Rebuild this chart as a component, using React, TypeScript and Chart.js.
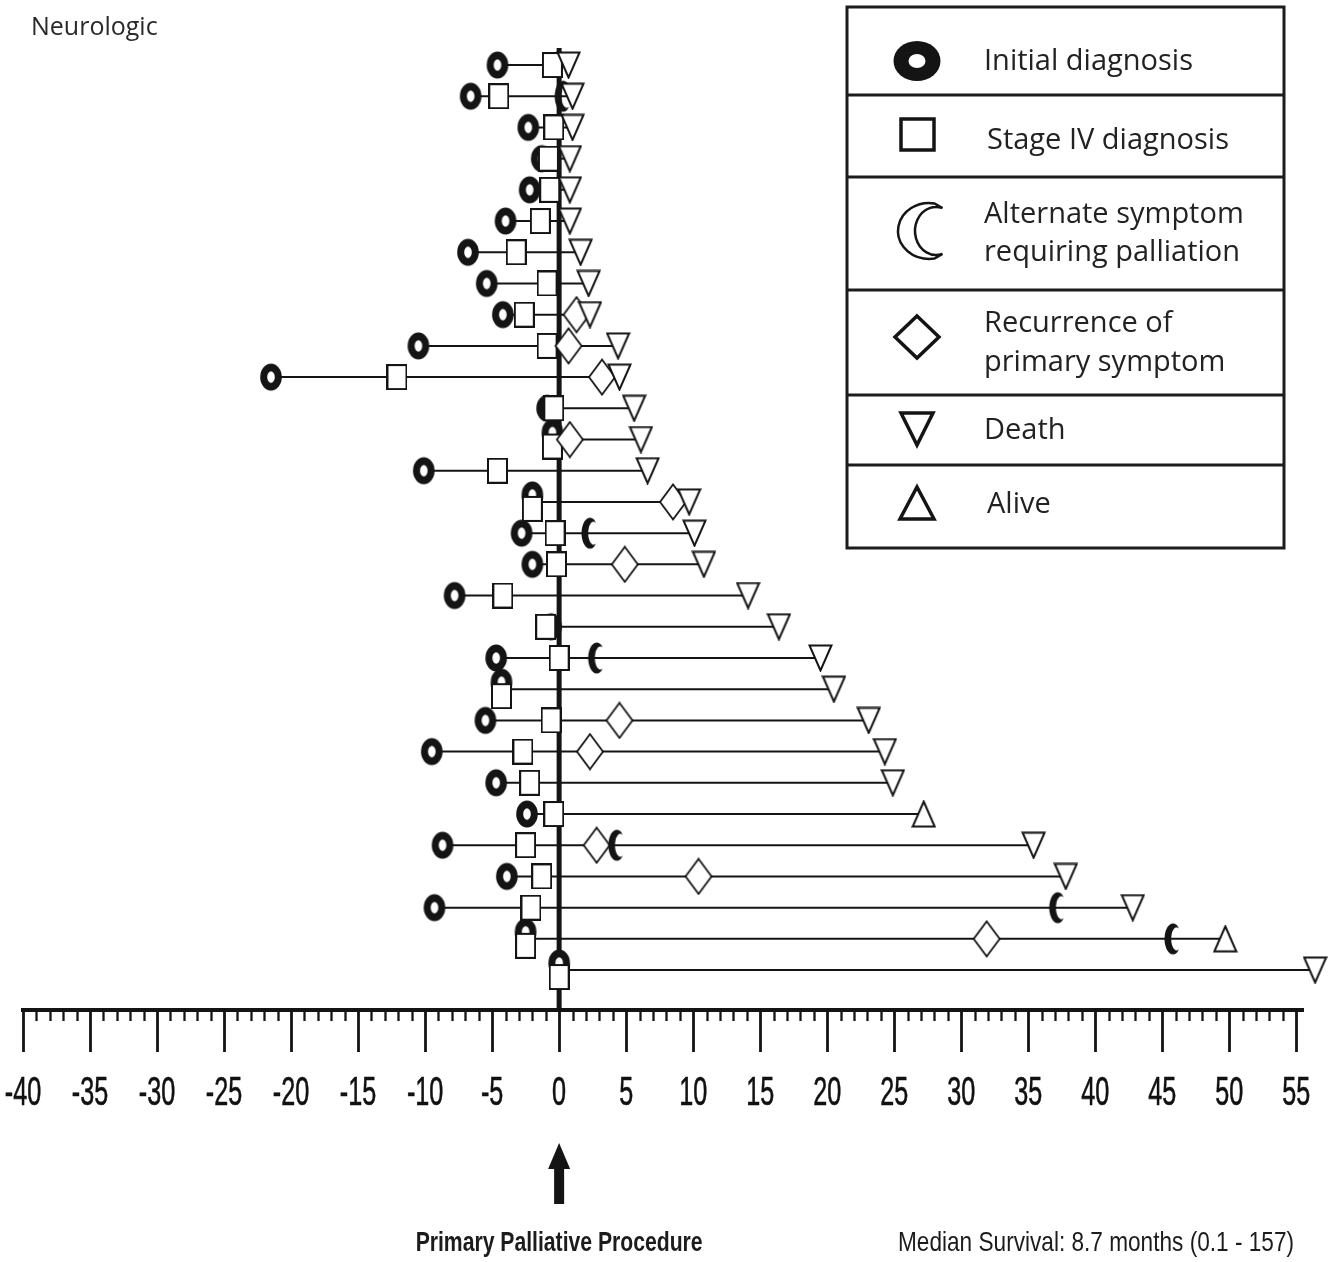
import React, { useEffect, useRef } from 'react';
import { Chart, registerables } from 'chart.js';

Chart.register(...registerables);

// ---------------- DATA (months relative to the primary palliative procedure) ----------------
const patients = [1, 2, 3, 4, 5, 6, 7, 8, 9, 10, 11, 12, 13, 14, 15, 16, 17, 18, 19, 20, 21, 22, 23, 24, 25, 26, 27, 28, 29, 30];
const initialDiagnosis = [-4.6, -6.6, -2.3, -1.3, -2.2, -4.0, -6.8, -5.4, -4.2, -10.5, -21.5, -0.9, -0.5, -10.1, -2.0, -2.8, -2.0, -7.8, -0.6, -4.7, -4.3, -5.5, -9.5, -4.7, -2.4, -8.7, -3.9, -9.3, -2.5, 0.0];
const stageIVDiagnosis = [-0.5, -4.5, -0.4, -0.8, -0.7, -1.4, -3.2, -0.9, -2.6, -0.9, -12.1, -0.4, -0.5, -4.6, -2.0, -0.3, -0.2, -4.2, -1.0, 0.0, -4.3, -0.6, -2.7, -2.2, -0.4, -2.5, -1.3, -2.1, -2.5, 0.0];
const alternateSymptom = [null, 0.3, null, null, null, null, null, null, null, null, null, null, null, null, null, 2.3, null, null, null, 2.8, null, null, null, null, null, 4.3, null, 37.2, 45.8, null];
const primaryRecurrence = [null, null, null, null, null, null, null, null, 1.3, 0.7, 3.2, null, 0.8, null, 8.5, null, 4.9, null, null, null, null, 4.5, 2.3, null, null, 2.8, 10.4, null, 31.9, null];
const lastFollowUp = [0.7, 1.0, 1.0, 0.8, 0.8, 0.8, 1.6, 2.2, 2.3, 4.4, 4.5, 5.6, 6.1, 6.6, 9.7, 10.1, 10.8, 14.1, 16.4, 19.5, 20.5, 23.1, 24.3, 24.9, 27.2, 35.4, 37.8, 42.8, 49.7, 56.4];
const outcomeStatus = ['Death', 'Death', 'Death', 'Death', 'Death', 'Death', 'Death', 'Death', 'Death', 'Death', 'Death', 'Death', 'Death', 'Death', 'Death', 'Death', 'Death', 'Death', 'Death', 'Death', 'Death', 'Death', 'Death', 'Death', 'Alive', 'Death', 'Death', 'Death', 'Alive', 'Death'];
const xTickLabels = [-40, -35, -30, -25, -20, -15, -10, -5, 0, 5, 10, 15, 20, 25, 30, 35, 40, 45, 50, 55];
const legendLabels = [
  ['Initial diagnosis'],
  ['Stage IV diagnosis'],
  ['Alternate symptom', 'requiring palliation'],
  ['Recurrence of', 'primary symptom'],
  ['Death'],
  ['Alive'],
];
const chartTitle = 'Neurologic';
const procedureLabel = 'Primary Palliative Procedure';
const medianLabel = 'Median Survival: 8.7 months (0.1 - 157)';

const X_MIN = -40;
const X_MAX = 55.5;
const Y_MIN = 0.455;
const Y_MAX = 31.28;
const INK = '#141414';

// ---------------- marker images ----------------
function makeCanvas(w: number, h: number, draw: (c: CanvasRenderingContext2D) => void) {
  const c = document.createElement('canvas');
  c.width = w;
  c.height = h;
  const ctx = c.getContext('2d')!;
  draw(ctx);
  return c;
}

function ringPath(ctx, cx, cy, rx, ry, hx, hy) {
  ctx.fillStyle = INK;
  ctx.beginPath();
  ctx.ellipse(cx, cy, rx, ry, 0, 0, Math.PI * 2);
  ctx.fill();
  ctx.fillStyle = '#fff';
  ctx.beginPath();
  ctx.ellipse(cx, cy, hx, hy, 0, 0, Math.PI * 2);
  ctx.fill();
}

const DEG = Math.PI / 180;
// "C"-shaped crescent opening to the right
function crescentPath(ctx, cx, cy, rxOut, ryOut, spanOut, dx, rxIn, ryIn, spanIn) {
  ctx.beginPath();
  ctx.ellipse(cx, cy, rxOut, ryOut, 0, -spanOut * DEG, spanOut * DEG, true);
  ctx.ellipse(cx + dx, cy, rxIn, ryIn, 0, spanIn * DEG, (360 - spanIn) * DEG, false);
  ctx.closePath();
}

function buildMarkers() {
  const ring = (shift: number) =>
    makeCanvas(24, 30 + Math.abs(shift) * 2, (c) => ringPath(c, 12, 15 + Math.abs(shift) + shift, 10.8, 13.5, 3.8, 5.8));
  const square = (shift: number) =>
    makeCanvas(21, 26 + Math.abs(shift) * 2, (c) => {
      const top = 1 + Math.abs(shift) + shift;
      c.fillStyle = '#fff';
      c.fillRect(1, top, 19, 24);
      c.strokeStyle = INK;
      c.lineWidth = 2;
      c.strokeRect(1, top, 19, 24);
    });
  const tri = (down: boolean) =>
    makeCanvas(25, 28, (c) => {
      c.beginPath();
      if (down) {
        c.moveTo(1.5, 1.5);
        c.lineTo(23.5, 1.5);
        c.lineTo(12.5, 26.5);
      } else {
        c.moveTo(12.5, 1.5);
        c.lineTo(23.5, 26.5);
        c.lineTo(1.5, 26.5);
      }
      c.closePath();
      c.fillStyle = '#fff';
      c.fill();
      c.lineWidth = 2;
      c.lineJoin = 'miter';
      c.strokeStyle = INK;
      c.stroke();
    });
  const diamond = makeCanvas(30, 38, (c) => {
    c.beginPath();
    c.moveTo(15, 1.5);
    c.lineTo(28, 19);
    c.lineTo(15, 36.5);
    c.lineTo(2, 19);
    c.closePath();
    c.fillStyle = '#fff';
    c.fill();
    c.lineWidth = 1.8;
    c.strokeStyle = INK;
    c.stroke();
  });
  const moon = makeCanvas(20, 34, (c) => {
    crescentPath(c, 10, 17, 8.5, 15.5, 62, 3.6, 5.4, 11.5, 62);
    c.fillStyle = INK;
    c.fill();
  });
  return {
    ring: ring(0),
    ringUp: ring(-7),
    square: square(0),
    squareDown: square(7),
    death: tri(true),
    alive: tri(false),
    diamond,
    moon,
  };
}

// ---------------- decoration plugin (axis ticks & labels, legend, captions) ----------------
const decorPlugin = {
  id: 'decor',
  afterDraw(chart) {
    const ctx = chart.ctx;
    const xs = chart.scales.x;
    const area = chart.chartArea;
    ctx.save();

    // tick marks under the axis line
    ctx.strokeStyle = INK;
    xs.ticks.forEach((t) => {
      if (!Number.isInteger(t.value)) return;
      const px = Math.round(xs.getPixelForValue(t.value)) + 0.5;
      const major = xTickLabels.includes(t.value);
      ctx.lineWidth = major ? 2.8 : 2.3;
      ctx.beginPath();
      ctx.moveTo(px, area.bottom);
      ctx.lineTo(px, area.bottom + (major ? 42 : 11));
      ctx.stroke();
    });

    // tick labels (condensed)
    ctx.fillStyle = '#111';
    ctx.strokeStyle = '#111';
    ctx.lineWidth = 0.6;
    ctx.font = '40px "Liberation Sans", Arial, sans-serif';
    ctx.textAlign = 'center';
    ctx.textBaseline = 'middle';
    xTickLabels.forEach((v) => {
      const px = xs.getPixelForValue(v);
      ctx.save();
      ctx.translate(px, area.bottom + 84);
      ctx.scale(0.63, 1);
      ctx.fillText(String(v), 0, 0);
      ctx.strokeText(String(v), 0, 0);
      ctx.restore();
    });

    // title
    ctx.fillStyle = '#2a2a2a';
    ctx.font = '25px "Open Sans", "Noto Sans", sans-serif';
    ctx.textAlign = 'left';
    ctx.textBaseline = 'middle';
    ctx.fillText(chartTitle, 31, 28);

    // arrow at time zero
    const x0 = xs.getPixelForValue(0);
    ctx.fillStyle = INK;
    ctx.fillRect(x0 - 5, 1166, 10, 38);
    ctx.beginPath();
    ctx.moveTo(x0, 1143);
    ctx.lineTo(x0 + 11, 1169);
    ctx.lineTo(x0 - 11, 1169);
    ctx.closePath();
    ctx.fill();

    // captions
    ctx.fillStyle = '#1c1c1c';
    ctx.textBaseline = 'middle';
    ctx.textAlign = 'center';
    ctx.font = 'bold 28px "Liberation Sans Narrow", "Liberation Sans", sans-serif';
    ctx.fillText(procedureLabel, x0, 1243, 287);
    ctx.textAlign = 'left';
    ctx.font = '28px "Liberation Sans Narrow", "Liberation Sans", sans-serif';
    ctx.fillText(medianLabel, 898, 1243, 396);

    // legend box
    const L = 847, T = 7, R = 1284, B = 548;
    const dividers = [95, 177, 290, 395, 465];
    ctx.strokeStyle = '#1c1c1c';
    ctx.lineWidth = 3;
    ctx.strokeRect(L, T, R - L, B - T);
    dividers.forEach((y) => {
      ctx.beginPath();
      ctx.moveTo(L, y);
      ctx.lineTo(R, y);
      ctx.stroke();
    });

    const sx = 917;
    // ring
    ringPath(ctx, sx, 61, 23.5, 20, 8.5, 7);
    // square
    ctx.lineWidth = 3.5;
    ctx.strokeStyle = INK;
    ctx.strokeRect(sx - 16, 119, 33, 31);
    // crescent (outline)
    crescentPath(ctx, sx + 12, 231, 31, 28, 80, 7, 21, 24, 72);
    ctx.lineWidth = 2.5;
    ctx.stroke();
    // diamond
    ctx.beginPath();
    ctx.moveTo(sx, 316);
    ctx.lineTo(sx + 22, 337);
    ctx.lineTo(sx, 358);
    ctx.lineTo(sx - 22, 337);
    ctx.closePath();
    ctx.lineWidth = 3.5;
    ctx.stroke();
    // death
    ctx.beginPath();
    ctx.moveTo(sx - 16, 413);
    ctx.lineTo(sx + 16, 413);
    ctx.lineTo(sx, 445);
    ctx.closePath();
    ctx.lineWidth = 3.5;
    ctx.lineJoin = 'miter';
    ctx.stroke();
    // alive
    ctx.beginPath();
    ctx.moveTo(sx, 487);
    ctx.lineTo(sx + 17, 519);
    ctx.lineTo(sx - 17, 519);
    ctx.closePath();
    ctx.stroke();

    ctx.fillStyle = '#222';
    ctx.font = '29px "Open Sans", "Noto Sans", sans-serif';
    ctx.textAlign = 'left';
    ctx.textBaseline = 'middle';
    const textRows = [[62], [141], [215, 253], [324, 363], [431], [505]];
    const textX = [984, 987, 984, 984, 984, 987];
    legendLabels.forEach((lines, i) => {
      lines.forEach((line, j) => ctx.fillText(line, textX[i], textRows[i][j]));
    });

    ctx.restore();
  },
};

export default function App() {
  const canvasRef = useRef<HTMLCanvasElement | null>(null);

  useEffect(() => {
    document.body.style.margin = '0';
    const canvas = canvasRef.current;
    if (!canvas) return;
    const m = buildMarkers();

    const coincident = patients.map((_, i) => initialDiagnosis[i] === stageIVDiagnosis[i]);

    const lineSets = patients.map((p, i) => {
      const vals = [initialDiagnosis[i], stageIVDiagnosis[i], alternateSymptom[i], primaryRecurrence[i], lastFollowUp[i]].filter(
        (v) => v !== null && v !== undefined
      ) as number[];
      return {
        type: 'line',
        data: [
          { x: Math.min(...vals), y: p },
          { x: Math.max(...vals), y: p },
        ],
        borderColor: INK,
        borderWidth: 2,
        pointRadius: 0,
        fill: false,
        order: 20,
        clip: false,
      };
    });

    const pick = (arr: (number | null)[]) =>
      patients.map((p, i) => (arr[i] === null ? null : { x: arr[i], y: p })).filter(Boolean);

    const scatterBase = { type: 'scatter', pointRadius: 16, pointHoverRadius: 16, borderWidth: 0, clip: false };

    const datasets: any[] = [
      ...lineSets,
      {
        type: 'line',
        data: [
          { x: 0, y: Y_MIN },
          { x: 0, y: Y_MAX },
        ],
        borderColor: INK,
        borderWidth: 5,
        pointRadius: 0,
        order: 19,
        clip: false,
      },
      {
        ...scatterBase,
        label: 'Initial diagnosis',
        data: patients.map((p, i) => ({ x: initialDiagnosis[i], y: p })),
        pointStyle: coincident.map((c) => (c ? m.ringUp : m.ring)),
        order: 6,
      },
      {
        ...scatterBase,
        label: 'Stage IV diagnosis',
        data: patients.map((p, i) => ({ x: stageIVDiagnosis[i], y: p })),
        pointStyle: coincident.map((c) => (c ? m.squareDown : m.square)),
        order: 5,
      },
      {
        ...scatterBase,
        label: 'Recurrence of primary symptom',
        data: pick(primaryRecurrence),
        pointStyle: m.diamond,
        order: 4,
      },
      {
        ...scatterBase,
        label: 'Alternate symptom requiring palliation',
        data: pick(alternateSymptom),
        pointStyle: m.moon,
        order: 3,
      },
      {
        ...scatterBase,
        label: 'Death',
        data: pick(lastFollowUp.map((v, i) => (outcomeStatus[i] === 'Death' ? v : null))),
        pointStyle: m.death,
        order: 2,
      },
      {
        ...scatterBase,
        label: 'Alive',
        data: pick(lastFollowUp.map((v, i) => (outcomeStatus[i] === 'Alive' ? v : null))),
        pointStyle: m.alive,
        order: 1,
      },
    ];

    const chart = new Chart(canvas, {
      type: 'scatter',
      data: { datasets },
      options: {
        responsive: false,
        maintainAspectRatio: false,
        devicePixelRatio: 1,
        animation: false,
        events: [],
        layout: { padding: { left: 23, right: 34, top: 48, bottom: 252 } },
        plugins: {
          legend: { display: false },
          tooltip: { enabled: false },
          title: { display: false },
        },
        scales: {
          x: {
            type: 'linear',
            position: 'bottom',
            min: X_MIN,
            max: X_MAX,
            border: { display: true, width: 4, color: INK },
            grid: { display: true, drawOnChartArea: false, drawTicks: false },
            ticks: {
              display: false,
              stepSize: 1,
              includeBounds: false,
              autoSkip: false,
            },
            afterFit: (scale: any) => {
              scale.height = 0;
            },
          },
          y: {
            type: 'linear',
            display: false,
            reverse: true,
            min: Y_MIN,
            max: Y_MAX,
          },
        },
      },
      plugins: [decorPlugin],
    } as any);

    return () => chart.destroy();
  }, []);

  return (
    <div style={{ width: 1337, height: 1262, position: 'relative', overflow: 'hidden', background: '#fff' }}>
      <canvas ref={canvasRef} width={1337} height={1262} style={{ display: 'block' }} />
    </div>
  );
}
